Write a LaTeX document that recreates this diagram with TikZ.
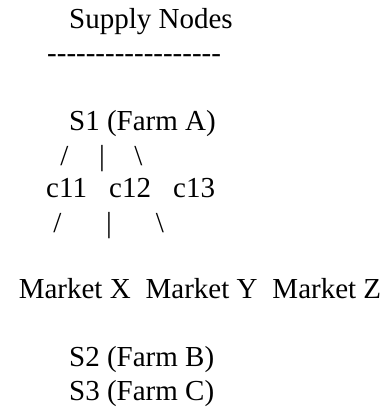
\documentclass[tikz,border=0pt]{standalone}
\usepackage{fontspec}
\setmainfont{Liberation Serif}
\usetikzlibrary{positioning}

\begin{document}
\begin{tikzpicture}[
    x=1pt, y=-1pt,
    node distance=14.5pt,
    txt/.style={inner sep=0pt, anchor=base west, font=\fontsize{29}{34}\selectfont},
    slash/.style={inner sep=0pt, anchor=base, font=\fontsize{29}{34}\selectfont}
]
\useasboundingbox (0,0) rectangle (385,408);

\node[txt] (title) at (69,28) {Supply Nodes};
\node[txt] (rule) at (47,62) {-{}-{}-{}-{}-{}-{}-{}-{}-{}-{}-{}-{}-{}-{}-{}-{}-{}-};

\node[txt] (S1) at (69,130) {S1 (Farm A)};
\node[slash] (l1) at (64.5,165) {/};
\node[slash] (m1) at (102,165) {|};
\node[slash] (r1) at (138.5,165) {\textbackslash};

\node[txt] (c11) at (46,197) {c11};
\node[txt, right=21.75pt of c11] (c12) {c12};
\node[txt, right=21.75pt of c12] (c13) {c13};
\node[slash] (l2) at (57.5,232) {/};
\node[slash] (m2) at (109,232) {|};
\node[slash] (r2) at (160,232) {\textbackslash};

\node[txt] (mx) at (18.6,298) {Market X};
\node[txt, right=of mx] (my) {Market Y};
\node[txt, right=of my] (mz) {Market Z};

\node[txt] (S2) at (69,366) {S2 (Farm B)};
\node[txt] (S3) at (69,400) {S3 (Farm C)};
\end{tikzpicture}
\end{document}
